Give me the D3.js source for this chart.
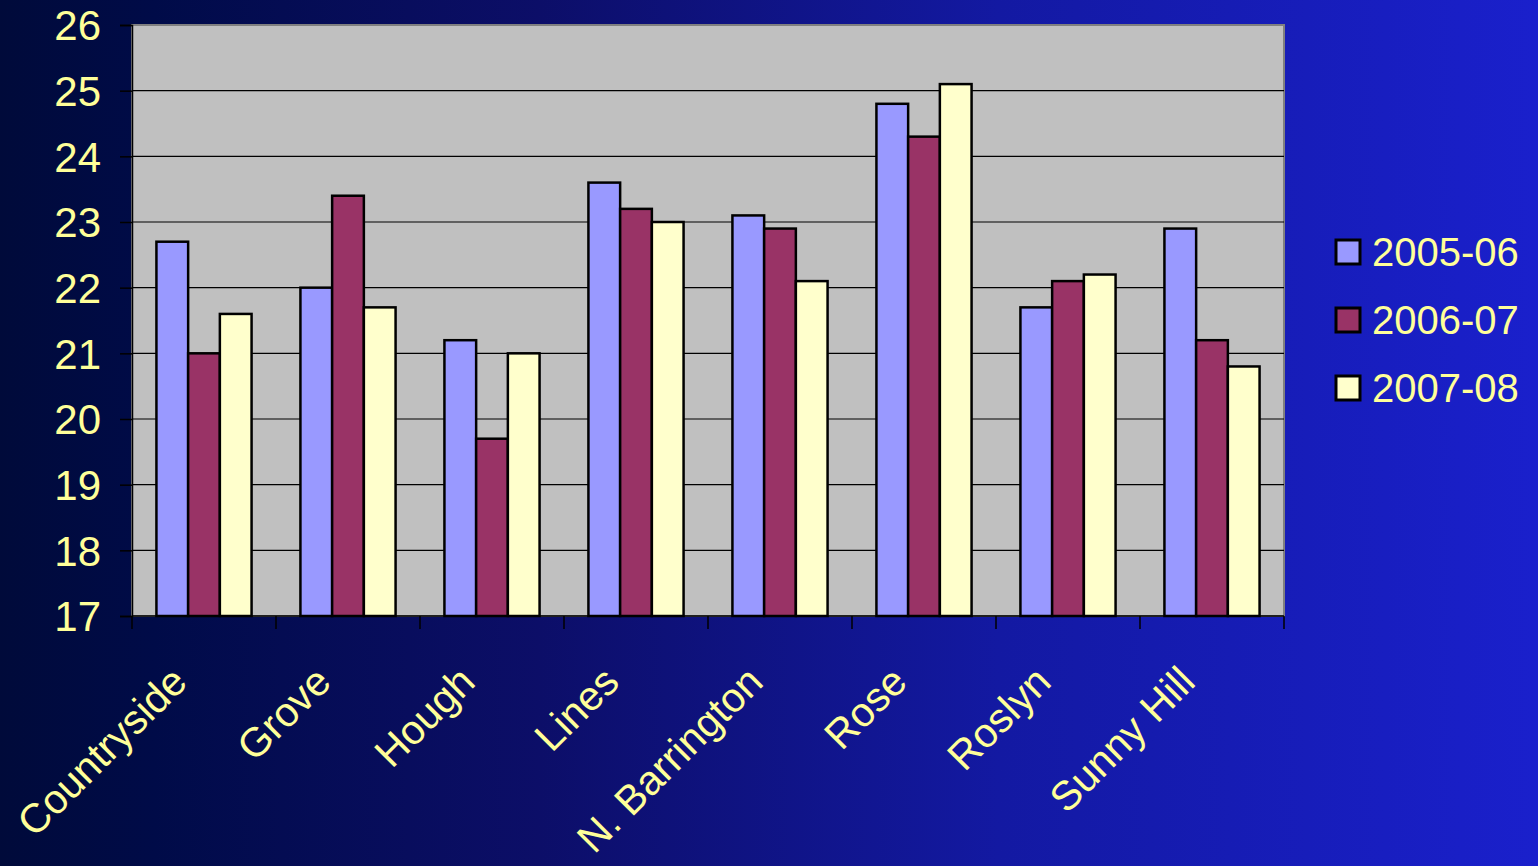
<!DOCTYPE html>
<html>
<head>
<meta charset="utf-8">
<script src="https://cdn.jsdelivr.net/npm/d3@7"></script>
<style>
html,body{margin:0;padding:0;overflow:hidden;}
svg{display:block;}
text{font-family:"Liberation Sans",Arial,sans-serif;fill:#ffff99;}
</style>
</head>
<body>
<svg id="chart" width="1538" height="866"></svg>
<script>
const categories = ["Countryside","Grove","Hough","Lines","N. Barrington","Rose","Roslyn","Sunny Hill"];
const seriesNames = ["2005-06","2006-07","2007-08"];
const s2005 = [22.7, 22.0, 21.2, 23.6, 23.1, 24.8, 21.7, 22.9];
const s2006 = [21.0, 23.4, 19.7, 23.2, 22.9, 24.3, 22.1, 21.2];
const s2007 = [21.6, 21.7, 21.0, 23.0, 22.1, 25.1, 22.2, 20.8];
const yTicks = [17,18,19,20,21,22,23,24,25,26];
const colors = ["#9999ff","#993366","#ffffcc"];

const seriesValues = [s2005, s2006, s2007];
const W = 1538, H = 866;
const margin = {left:132, top:25, right:254, bottom:250};
const svg = d3.select("#chart");

// background gradient
const defs = svg.append("defs");
const grad = defs.append("linearGradient").attr("id","bg").attr("x1","0").attr("x2","1").attr("y1","0").attr("y2","0");
grad.append("stop").attr("offset","0").attr("stop-color","#000a3a");
grad.append("stop").attr("offset","0.1").attr("stop-color","#000b48");
grad.append("stop").attr("offset","0.35").attr("stop-color","#0c0e68");
grad.append("stop").attr("offset","0.65").attr("stop-color","#1319a2");
grad.append("stop").attr("offset","1").attr("stop-color","#1a20cc");
svg.append("rect").attr("width",W).attr("height",H).attr("fill","url(#bg)");

const x0 = d3.scaleBand().domain(categories).range([margin.left, W-margin.right]).paddingInner(0).paddingOuter(0);
const x1 = d3.scaleBand().domain(seriesNames).range([0, x0.bandwidth()]).paddingInner(0).paddingOuter(0.77);
const y = d3.scaleLinear().domain([17,26]).range([H-margin.bottom, margin.top]);

const plotL = margin.left, plotR = W-margin.right, plotT = y(26), plotB = y(17);

// plot area
svg.append("rect").attr("x",plotL).attr("y",plotT).attr("width",plotR-plotL).attr("height",plotB-plotT)
  .attr("fill","#c0c0c0").attr("stroke","#808080").attr("stroke-width",2);

// gridlines
svg.append("g").selectAll("line").data(yTicks.filter(t=>t>17 && t<26)).join("line")
  .attr("x1",plotL).attr("x2",plotR).attr("y1",d=>y(d)).attr("y2",d=>y(d))
  .attr("stroke","#000").attr("stroke-width",1.2);

// bars
const groups = svg.append("g").selectAll("g").data(categories).join("g")
  .attr("transform",d=>`translate(${x0(d)},0)`);
groups.selectAll("rect").data((c,i)=>seriesNames.map((s,j)=>({s, v:seriesValues[j][i], j})))
  .join("rect")
  .attr("x",d=>x1(d.s)).attr("width",x1.bandwidth())
  .attr("y",d=>y(d.v)).attr("height",d=>y(17)-y(d.v))
  .attr("fill",d=>colors[d.j]).attr("stroke","#000").attr("stroke-width",2.5);

// y axis
const yAxis = d3.axisLeft(y).tickValues(yTicks).tickSize(12).tickPadding(19).tickFormat(d3.format("d"));
const ga = svg.append("g").attr("transform",`translate(${plotL},0)`).call(yAxis);
ga.select(".domain").attr("stroke","#000").attr("stroke-width",1.5);
ga.selectAll(".tick line").attr("stroke","#000").attr("stroke-width",1.5);
ga.selectAll(".tick text").attr("font-size",42).attr("dy","0.35em").style("fill","#ffff99")
  .attr("font-family","Liberation Sans, Arial, sans-serif");

// x axis
const boundaries = categories.map(c=>x0(c)).concat([plotR]);
svg.append("line").attr("x1",plotL).attr("x2",plotR).attr("y1",plotB).attr("y2",plotB).attr("stroke","#000").attr("stroke-width",1.5);
svg.append("g").selectAll("line").data(boundaries).join("line")
  .attr("x1",d=>d).attr("x2",d=>d).attr("y1",plotB).attr("y2",plotB+13)
  .attr("stroke","#000").attr("stroke-width",1.5);

svg.append("g").selectAll("text").data(categories).join("text")
  .attr("transform",d=>`translate(${x0(d)+x0.bandwidth()/2-25},${plotB+58}) rotate(-45)`)
  .attr("text-anchor","end").attr("font-size",41)
  .attr("dy","0.35em")
  .text(d=>d);

// legend
const leg = svg.append("g").selectAll("g").data(seriesNames).join("g")
  .attr("transform",(d,i)=>`translate(1336,${252+i*68})`);
leg.append("rect").attr("x",0).attr("y",-12).attr("width",24).attr("height",24)
  .attr("fill",(d,i)=>colors[i]).attr("stroke","#000").attr("stroke-width",3);
leg.append("text").attr("x",36).attr("y",0).attr("dy","0.35em").attr("font-size",40).text(d=>d);
</script>
</body>
</html>
